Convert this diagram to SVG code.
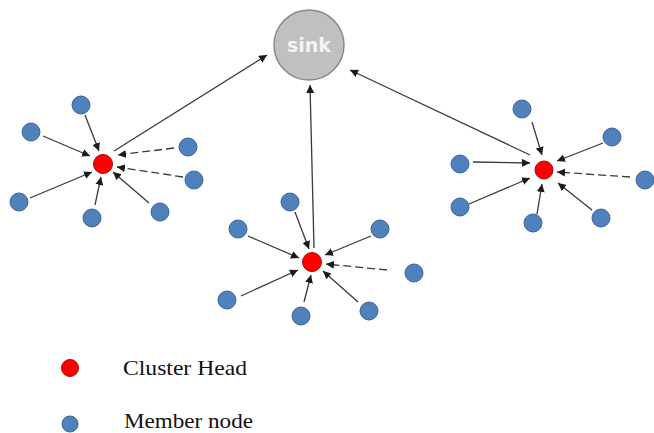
<svg xmlns="http://www.w3.org/2000/svg" width="654" height="433" viewBox="0 0 654 433">
  <style>
    .link { stroke: #3a3a3a; stroke-width: 1.3; fill: none; marker-end: url(#head); }
    .dash { stroke-dasharray: 8 4; }
    .member { fill: #4f81bd; stroke: #3b6597; stroke-width: 1; }
    .head { fill: #ff0000; stroke: #b00000; stroke-width: 1; }
    .sink { fill: #c0c0c0; stroke: #8a8a8a; stroke-width: 1.5; }
    .sinklabel { font-family: "DejaVu Sans", "Liberation Sans", sans-serif; font-weight: bold; font-size: 19px; fill: #f4f4f4; text-anchor: middle; }
    .legend { font-family: "Liberation Serif", "Times New Roman", serif; font-size: 21px; fill: #111111; }
  </style>
  <defs>
    <marker id="head" markerUnits="userSpaceOnUse" markerWidth="9" markerHeight="8" refX="8" refY="4" orient="auto">
      <path d="M0,0 L8,4 L0,8 Z" fill="#1a1a1a"/>
    </marker>
  </defs>
  <rect width="654" height="433" fill="#ffffff"/>

  <!-- connectors -->
  <g id="connectors">
    <!-- cluster heads to sink -->
    <line class="link" x1="114" y1="151" x2="267" y2="55"/>
    <line class="link" x1="314" y1="248" x2="310" y2="85"/>
    <line class="link" x1="530" y1="155" x2="350" y2="70"/>
    <!-- left cluster -->
    <line class="link" x1="85" y1="115" x2="99" y2="151"/>
    <line class="link" x1="43" y1="136" x2="90" y2="156"/>
    <line class="link dash" x1="174" y1="148" x2="118" y2="155"/>
    <line class="link dash" x1="183" y1="177" x2="117" y2="167"/>
    <line class="link" x1="30" y1="198" x2="92" y2="172"/>
    <line class="link" x1="95" y1="205" x2="101" y2="177"/>
    <line class="link" x1="149" y1="203" x2="113" y2="172"/>
    <!-- middle cluster -->
    <line class="link" x1="295" y1="212" x2="309" y2="249"/>
    <line class="link" x1="248" y1="236" x2="299" y2="258"/>
    <line class="link" x1="371" y1="236" x2="325" y2="255"/>
    <line class="link dash" x1="387" y1="270" x2="326" y2="264"/>
    <line class="link" x1="241" y1="296" x2="298" y2="270"/>
    <line class="link" x1="304" y1="302" x2="311" y2="275"/>
    <line class="link" x1="358" y1="302" x2="323" y2="271"/>
    <!-- right cluster -->
    <line class="link" x1="532" y1="122" x2="542" y2="155"/>
    <line class="link" x1="473" y1="162" x2="530" y2="163"/>
    <line class="link" x1="603" y1="143" x2="557" y2="161"/>
    <line class="link dash" x1="630" y1="177" x2="557" y2="172"/>
    <line class="link" x1="469" y1="204" x2="530" y2="178"/>
    <line class="link" x1="537" y1="214" x2="542" y2="184"/>
    <line class="link" x1="592" y1="210" x2="558" y2="183"/>
  </g>

  <!-- sink -->
  <g id="sink">
    <circle class="sink" cx="309" cy="45" r="35"/>
    <text class="sinklabel" x="309" y="52">sink</text>
  </g>

  <!-- left cluster -->
  <g id="ch-left"><circle class="head" cx="103" cy="164" r="9.5"/></g>
  <g id="m-l1"><circle class="member" cx="81" cy="105" r="9"/></g>
  <g id="m-l2"><circle class="member" cx="31" cy="132" r="9"/></g>
  <g id="m-l3"><circle class="member" cx="188" cy="147" r="9"/></g>
  <g id="m-l4"><circle class="member" cx="194" cy="180" r="9"/></g>
  <g id="m-l5"><circle class="member" cx="19" cy="202" r="9"/></g>
  <g id="m-l6"><circle class="member" cx="92" cy="218" r="9"/></g>
  <g id="m-l7"><circle class="member" cx="160" cy="212" r="9"/></g>

  <!-- middle cluster -->
  <g id="ch-mid"><circle class="head" cx="312" cy="262" r="9.5"/></g>
  <g id="m-m1"><circle class="member" cx="290" cy="202" r="9"/></g>
  <g id="m-m2"><circle class="member" cx="238" cy="229" r="9"/></g>
  <g id="m-m3"><circle class="member" cx="380" cy="229" r="9"/></g>
  <g id="m-m4"><circle class="member" cx="414" cy="273" r="9"/></g>
  <g id="m-m5"><circle class="member" cx="227" cy="300" r="9"/></g>
  <g id="m-m6"><circle class="member" cx="301" cy="316" r="9"/></g>
  <g id="m-m7"><circle class="member" cx="369" cy="311" r="9"/></g>

  <!-- right cluster -->
  <g id="ch-right"><circle class="head" cx="544" cy="170" r="9"/></g>
  <g id="m-r1"><circle class="member" cx="522" cy="109" r="9"/></g>
  <g id="m-r2"><circle class="member" cx="460" cy="164" r="9"/></g>
  <g id="m-r3"><circle class="member" cx="612" cy="137" r="9"/></g>
  <g id="m-r4"><circle class="member" cx="645" cy="180" r="9"/></g>
  <g id="m-r5"><circle class="member" cx="460" cy="207" r="9"/></g>
  <g id="m-r6"><circle class="member" cx="533" cy="223" r="9"/></g>
  <g id="m-r7"><circle class="member" cx="601" cy="218" r="9"/></g>

  <!-- legend -->
  <g id="legend-head">
    <circle class="head" cx="70" cy="368" r="8.5"/>
    <text class="legend" x="123" y="375" textLength="124" lengthAdjust="spacingAndGlyphs">Cluster Head</text>
  </g>
  <g id="legend-member">
    <circle class="member" cx="70" cy="424" r="8"/>
    <text class="legend" x="124" y="428" textLength="129" lengthAdjust="spacingAndGlyphs">Member node</text>
  </g>
</svg>
